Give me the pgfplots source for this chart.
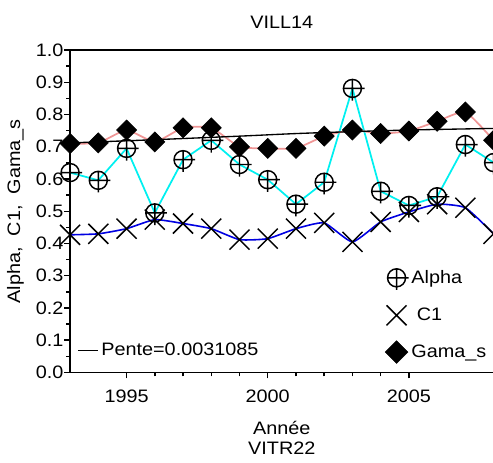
\documentclass[border=0pt]{standalone}
\usepackage{fontspec}
\setmainfont[FakeStretch=1.1]{Liberation Sans}
\usepackage{pgfplots}
\usepackage{pgfplotstable}
\pgfplotsset{compat=1.18}

% circle with a cross hair that runs past it to the right and below
\pgfdeclareplotmark{cplus}{%
  \pgfpathcircle{\pgfpointorigin}{\pgfplotmarksize}
  \pgfpathmoveto{\pgfqpoint{-\pgfplotmarksize}{0pt}}
  \pgfpathlineto{\pgfqpoint{1.35\pgfplotmarksize}{0pt}}
  \pgfpathmoveto{\pgfqpoint{0pt}{\pgfplotmarksize}}
  \pgfpathlineto{\pgfqpoint{0pt}{-1.35\pgfplotmarksize}}
  \pgfusepathqstroke}
\pgfdeclareplotmark{bigx}{%
  \pgfpathmoveto{\pgfqpoint{-\pgfplotmarksize}{-\pgfplotmarksize}}
  \pgfpathlineto{\pgfqpoint{\pgfplotmarksize}{\pgfplotmarksize}}
  \pgfpathmoveto{\pgfqpoint{-\pgfplotmarksize}{\pgfplotmarksize}}
  \pgfpathlineto{\pgfqpoint{\pgfplotmarksize}{-\pgfplotmarksize}}
  \pgfusepathqstroke}
\pgfdeclareplotmark{dia}{%
  \pgfpathmoveto{\pgfqpoint{0pt}{\pgfplotmarksize}}
  \pgfpathlineto{\pgfqpoint{\pgfplotmarksize}{0pt}}
  \pgfpathlineto{\pgfqpoint{0pt}{-\pgfplotmarksize}}
  \pgfpathlineto{\pgfqpoint{-\pgfplotmarksize}{0pt}}
  \pgfpathclose
  \pgfusepathqfillstroke}

\definecolor{pinkline}{RGB}{240,150,150}
\definecolor{blueline}{RGB}{0,0,225}
\definecolor{cyanline}{RGB}{0,240,240}

\pgfplotstableread{
year alpha c1 gama
1993 0.620 0.427 0.710
1994 0.596 0.430 0.712
1995 0.695 0.446 0.752
1996 0.495 0.474 0.715
1997 0.660 0.462 0.759
1998 0.720 0.446 0.759
1999 0.645 0.412 0.700
2000 0.598 0.415 0.695
2001 0.522 0.446 0.695
2002 0.590 0.464 0.733
2003 0.881 0.405 0.752
2004 0.562 0.467 0.741
2005 0.518 0.498 0.749
2006 0.545 0.522 0.779
2007 0.707 0.511 0.808
2008 0.651 0.430 0.720
}\vill

\pgfplotstableread{
year pente
1993 0.712
1996 0.722
1999 0.733
2001 0.741
2003 0.747
2005 0.752
2008 0.757
}\trend

\begin{document}
\begin{tikzpicture}
\pgfplotsset{
  myaxis/.style={
    at={(0,0)}, anchor=south west,
    scale only axis, width=317.25pt, height=241.5pt,
    xmin=1993, xmax=2008, ymin=0, ymax=1,
    clip=false,
    font=\fontsize{13.5}{15}\selectfont,
  },
}
\begin{axis}[
  myaxis,
  axis line style={line width=1.1pt},
  xtick={1995,2000,2005}, minor x tick num=4,
  ytick={0,0.1,0.2,0.3,0.4,0.5,0.6,0.7,0.8,0.9,1.0}, minor y tick num=1,
  xtick pos=bottom, ytick pos=left, tick align=outside,
  major tick length=4.5pt, minor tick length=3pt,
  every tick/.style={black, line width=1.1pt},
  /pgf/number format/assume math mode=true,
  xticklabel={\pgfmathprintnumber[1000 sep={}]{\tick}},
  ticklabel style={font=\fontsize{13.5}{15}\selectfont},
  xticklabel style={yshift=-5pt},
  yticklabel style={xshift=3pt, /pgf/number format/.cd, fixed, fixed zerofill, precision=1},
  title={VILL14},
  title style={at={(0.5,1)}, anchor=base, yshift=10.3pt},
  xlabel={Année\\VITR22},
  xlabel style={align=center, yshift=-7pt, font=\fontsize{13.5}{15}\selectfont},
  ylabel={Alpha,\ \ C1,\ \ Gama\_s},
  ylabel style={yshift=2pt},
  legend style={at={(0.734,0.019)}, anchor=south west, draw=none, fill=none,
    row sep=11.5pt, font=\fontsize{13.5}{15}\selectfont},
  legend cell align=left,
]
% marks first, lines over them
\addplot[forget plot, only marks, mark=bigx, mark size=7.5pt, line width=1.1pt] table[x=year, y=c1] {\vill};
\addplot[forget plot, only marks, mark=cplus, mark size=6.75pt, line width=1.1pt] table[x=year, y=alpha] {\vill};
\addplot[forget plot, only marks, mark=dia, mark size=7.5pt, line width=0.5pt, fill=black] table[x=year, y=gama] {\vill};
\addplot[forget plot, blueline, line width=1.2pt, smooth, tension=0.3, no marks] table[x=year, y=c1] {\vill};
\addplot[forget plot, cyanline, line width=1.3pt, no marks] table[x=year, y=alpha] {\vill};
\addplot[forget plot, pinkline, line width=1.3pt, smooth, tension=0.3, no marks] table[x=year, y=gama] {\vill};

\addlegendimage{only marks, mark=cplus, mark size=6.75pt, line width=1.1pt}
\addlegendentry{Alpha}
\addlegendimage{only marks, mark=bigx, mark size=7.5pt, line width=1.1pt}
\addlegendentry{\ C1}
\addlegendimage{only marks, mark=dia, mark size=8.5pt, fill=black}
\addlegendentry{Gama\_s}
\end{axis}

\begin{axis}[
  myaxis,
  hide axis,
  legend style={at={(0.007,0.028)}, anchor=south west, draw=none, fill=none,
    font=\fontsize{13.5}{15}\selectfont},
  legend image code/.code={\draw[#1] (0pt,0pt) -- (15pt,0pt);},
]
\addplot[black, line width=1pt, smooth, no marks] table[x=year, y=pente] {\trend};
\addlegendentry{Pente=0.0031085}
\end{axis}

\pgfresetboundingbox
\path (-52.5pt,-67.5pt) rectangle (316.8pt,279pt);
\end{tikzpicture}
\end{document}
